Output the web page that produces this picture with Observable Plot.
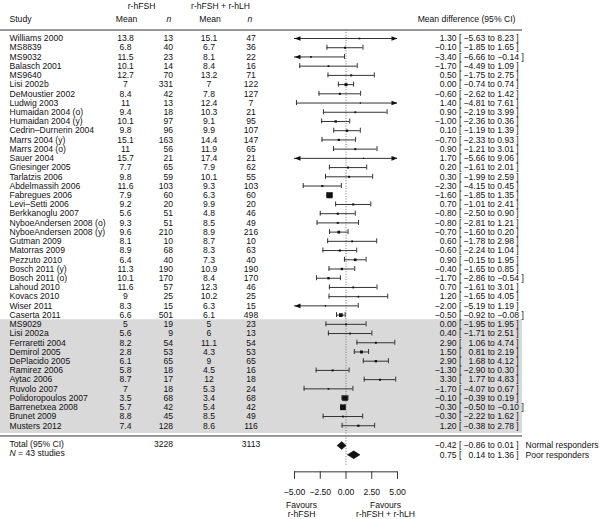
<!DOCTYPE html>
<html><head><meta charset="utf-8">
<script src="https://cdn.jsdelivr.net/npm/d3@7"></script>
<script src="https://cdn.jsdelivr.net/npm/@observablehq/plot@0.6"></script>
<style>body{margin:0;background:#fff}</style>
</head><body><div id="chart"></div>
<script>
const studies = ["Williams 2000","MS8839","MS9032","Balasch 2001","MS9640","Lisi 2002b","DeMoustier 2002","Ludwig 2003","Humaidan 2004 (o)","Humaidan 2004 (y)","Cedrin–Durnerin 2004","Marrs 2004 (y)","Marrs 2004 (o)","Sauer 2004","Griesinger 2005","Tarlatzis 2006","Abdelmassih 2006","Fabregues 2006","Levi–Setti 2006","Berkkanoglu 2007","NyboeAndersen 2008 (o)","NyboeAndersen 2008 (y)","Gutman 2009","Matorras 2009","Pezzuto 2010","Bosch 2011 (y)","Bosch 2011 (o)","Lahoud 2010","Kovacs 2010","Wiser 2011","Caserta 2011",
"MS9029","Lisi 2002a","Ferraretti 2004","Demirol 2005","DePlacido 2005","Ramirez 2006","Aytac 2006","Ruvolo 2007","Polidoropoulos 2007","Barrenetxea 2008","Brunet 2009","Musters 2012"];
const nNormal = 31; // first 31 studies: normal responders, rest: poor responders
const meanFSH = [13.8,6.8,11.5,10.1,12.7,7,8.4,11,9.4,10.1,9.8,15.1,11,15.7,7.7,9.8,11.6,7.9,9.2,5.6,9.3,9.6,8.1,8.9,6.4,11.3,10.1,11.6,9,8.3,6.6,5,5.6,8.2,2.8,6.1,5.8,8.7,7,3.5,5.7,8.8,7.4];
const nFSH = [13,40,23,14,70,331,42,13,18,97,96,163,56,21,65,59,103,60,20,51,51,210,10,68,40,190,170,57,25,15,501,19,9,54,53,65,18,17,18,68,42,45,128];
const meanLH = [15.1,6.7,8.1,8.4,13.2,7,7.8,12.4,10.3,9.1,9.9,14.4,11.9,17.4,7.9,10.1,9.3,6.3,9.9,4.8,8.5,8.9,8.7,8.3,7.3,10.9,8.4,12.3,10.2,6.3,6.1,5,6,11.1,4.3,9,4.5,12,5.3,3.4,5.4,8.5,8.6];
const nLH = [47,36,22,16,71,122,127,7,21,95,107,147,65,21,62,55,103,60,20,46,49,216,10,63,40,190,170,46,25,15,498,23,13,54,53,65,16,18,24,68,42,49,116];
const md = [1.30,-0.10,-3.40,-1.70,0.50,0.00,-0.60,1.40,0.90,-1.00,0.10,-0.70,0.90,1.70,0.20,0.30,-2.30,-1.60,0.70,-0.80,-0.80,-0.70,0.60,-0.60,0.90,-0.40,-1.70,0.70,1.20,-2.00,-0.50,0.00,0.40,2.90,1.50,2.90,-1.30,3.30,-1.70,-0.10,-0.30,-0.30,1.20];
const lo = [-5.63,-1.85,-6.66,-4.49,-1.75,-0.74,-2.62,-4.81,-2.19,-2.36,-1.19,-2.33,-1.21,-5.66,-1.61,-1.99,-4.15,-1.85,-1.01,-2.50,-2.81,-1.60,-1.78,-2.24,-0.15,-1.65,-2.86,-1.61,-1.65,-5.19,-0.92,-1.95,-1.71,1.06,0.81,1.68,-2.90,1.77,-4.07,-0.39,-0.50,-2.22,-0.38];
const hi = [8.23,1.65,-0.14,1.09,2.75,0.74,1.42,7.61,3.99,0.36,1.39,0.93,3.01,9.06,2.01,2.59,-0.45,-1.35,2.41,0.90,1.21,0.20,2.98,1.04,1.95,0.85,-0.54,3.01,4.05,1.19,-0.08,1.95,2.51,4.74,2.19,4.12,0.30,4.83,0.67,0.19,-0.10,1.62,2.78];
// upper limits as printed in the source table where they differ from the drawn interval
const hiPrinted = {16: "0.45", 17: "1.35"};
const weight = [0.5,0.7,0.5,0.6,0.7,1.6,0.8,0.3,0.6,1.0,1.0,0.9,0.7,0.3,0.7,0.7,0.8,6.5,0.8,0.8,0.7,1.4,0.6,0.8,1.3,1.0,1.0,0.6,0.5,0.4,2.5,0.6,0.6,0.7,1.6,1.0,0.7,0.7,0.5,5.5,5.8,0.6,0.9];
const summaryLabels = ["Normal responders","Poor responders"];
const summaryMd = [-0.42, 0.75];
const summaryLo = [-0.86, 0.14];
const summaryHi = [0.01, 1.36];
const xTicks = [-5, -2.5, 0, 2.5, 5];
const favourLeft = "Favours\nr-hFSH";
const favourRight = "Favours\nr-hFSH + r-hLH";

const fmt = d3.format(".2f");
const F = "#111";
const LINE = "#333";
const rows = studies.map((s, i) => ({
  study: s, i, mF: meanFSH[i], nF: nFSH[i], mL: meanLH[i], nL: nLH[i],
  md: md[i], lo: lo[i], hi: hi[i], w: weight[i],
  mdT: fmt(md[i]), loT: fmt(lo[i]), hiT: hiPrinted[i] ?? fmt(hi[i])
}));
const nS = studies.length;
const sumRows = summaryLabels.map((l, k) => ({
  label: l, i: nS + 1.15 + k, md: summaryMd[k], lo: summaryLo[k], hi: summaryHi[k],
  mdT: fmt(summaryMd[k]), loT: fmt(summaryLo[k]), hiT: fmt(summaryHi[k])
}));
const diamond = sumRows.flatMap(d => [
  {x: d.lo, y: d.i, z: d.label}, {x: d.md, y: d.i - 0.43, z: d.label},
  {x: d.hi, y: d.i, z: d.label}, {x: d.md, y: d.i + 0.43, z: d.label}, {x: d.lo, y: d.i, z: d.label}
]);
const ciRows = rows.concat(sumRows);

const arrowRight = {draw(c){ c.moveTo(0,0); c.lineTo(-6,-2.3); c.lineTo(-6,2.3); c.closePath(); }};
const arrowLeft = {draw(c){ c.moveTo(0,0); c.lineTo(6,-2.3); c.lineTo(6,2.3); c.closePath(); }};

const rowStep = 9.22, row0 = 38;
const axisRow = 47;
const axisPx = row0 + axisRow * rowStep;

const hdr = (t, dx, dy, anchor, extra = {}) => Plot.text([t], {text: d => d, frameAnchor: "top-left", lineAnchor: "middle", dx, dy, textAnchor: anchor, fill: F, ...extra});
const col = (data, text, dx, anchor, extra = {}) => Plot.text(data, {y: "i", text, frameAnchor: "left", lineAnchor: "middle", dx, textAnchor: anchor, fill: F, ...extra});

const chart = Plot.plot({
  width: 600, height: 519,
  marginTop: 0, marginLeft: 0, marginRight: 0, marginBottom: 519 - axisPx,
  style: {fontFamily: "'Liberation Sans', Arial, sans-serif", fontSize: "8.6px", color: F, background: "#fff", overflow: "visible"},
  x: {domain: [-5, 5], range: [294, 397], axis: null},
  y: {domain: [0, nS - 1], range: [row0, row0 + (nS - 1) * rowStep], axis: null},
  r: {type: "sqrt", domain: [0, 6.5], range: [0, 3.4]},
  marks: [
    Plot.rect([0], {y1: nNormal - 0.5, y2: nS - 1 + 0.84, insetRight: 78, fill: "#d9d9d9"}),
    Plot.ruleY([-0.92, nS + 0.11], {insetRight: 78, stroke: LINE, strokeWidth: 1}),
    Plot.ruleX([0], {y1: -0.92, y2: 46.4, stroke: "#777", strokeDasharray: "1,1.6"}),
    Plot.ruleY(rows, {y: "i", x1: d => Math.max(d.lo, -5), x2: d => Math.min(d.hi, 5), stroke: LINE}),
    Plot.ruleX(rows.filter(d => d.lo >= -5), {x: "lo", y1: d => d.i - 0.27, y2: d => d.i + 0.27, stroke: LINE}),
    Plot.ruleX(rows.filter(d => d.hi <= 5), {x: "hi", y1: d => d.i - 0.27, y2: d => d.i + 0.27, stroke: LINE}),
    Plot.dot(rows.filter(d => d.lo < -5), {x: () => -5, y: "i", symbol: arrowLeft, fill: F, stroke: "none"}),
    Plot.dot(rows.filter(d => d.hi > 5), {x: () => 5, y: "i", symbol: arrowRight, fill: F, stroke: "none"}),
    Plot.dot(rows, {x: "md", y: "i", r: "w", symbol: "square", fill: F, stroke: "none"}),
    Plot.line(diamond, {x: "x", y: "y", z: "z", fill: F, stroke: F, strokeWidth: 0.5}),
    // headers
    hdr("r-hFSH", 141, 6, "middle"),
    hdr("r-hFSH + r-hLH", 220, 6, "middle"),
    hdr("Study", 9, 18.3, "start"),
    hdr("Mean", 126, 18.3, "middle"),
    hdr("n", 168.5, 18.3, "middle", {fontStyle: "italic"}),
    hdr("Mean", 209.5, 18.3, "middle"),
    hdr("n", 249.5, 18.3, "middle", {fontStyle: "italic"}),
    hdr("Mean difference (95% CI)", 466, 18.3, "middle"),
    // table columns
    col(rows, "study", 9, "start"),
    col(rows, d => String(d.mF), 125, "middle"),
    col(rows, d => String(d.nF), 172.5, "end"),
    col(rows, d => String(d.mL), 208.5, "middle"),
    col(rows, d => String(d.nL), 250.5, "middle"),
    col(ciRows, "mdT", 456, "end"),
    col(ciRows, () => "[", 458.5, "start"),
    col(ciRows, "loT", 484.8, "end"),
    col(ciRows, d => "to " + d.hiT + " ]", 487.2, "start"),
    col(sumRows, "label", 525, "start"),
    // totals
    col([{i: nS + 1}], () => "Total (95% CI)", 9, "start"),
    col([{i: nS + 1}], () => String(d3.sum(nFSH)), 172.5, "end"),
    col([{i: nS + 1}], () => String(d3.sum(nLH)), 250.5, "middle"),
    col([{i: nS + 2}], () => "N", 9, "start", {fontStyle: "italic"}),
    col([{i: nS + 2}], () => "= " + nS + " studies", 17.6, "start"),
    // axis
    Plot.ruleY([axisRow], {x1: -5, x2: 5, stroke: LINE}),
    Plot.axisX(xTicks, {anchor: "bottom", tickSize: 7.5, tickPadding: 9.5, tickFormat: fmt, stroke: LINE, fill: F}),
    hdr(favourLeft, 301, 509.5, "middle"),
    hdr(favourRight, 385, 509.5, "middle")
  ]
});
document.getElementById("chart").appendChild(chart);
</script>
</body></html>
